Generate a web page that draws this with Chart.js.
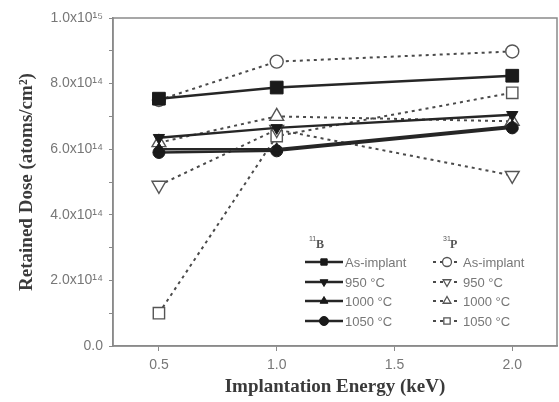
<!DOCTYPE html>
<html>
<head>
<meta charset="utf-8">
<script src="https://cdn.jsdelivr.net/npm/chart.js@4.4.1/dist/chart.umd.min.js"></script>
<style>
  html, body { margin: 0; padding: 0; background: #fff; }
  #wrap { width: 559px; height: 402px; }
</style>
</head>
<body>
<div id="wrap"><canvas id="doseChart" width="559" height="402"></canvas></div>
<script>
// Implantation energies (keV)
const energies = [0.5, 1.0, 2.0];
const xTicks = [0.5, 1.0, 1.5, 2.0];
const yTicks = [0, 2, 4, 6, 8, 10]; // in units of 1e14 atoms/cm2

// Retained dose, units of 1e14 atoms/cm2
const bAsImplant = [7.54, 7.88, 8.24];
const b950 = [6.35, 6.65, 7.05];
const b1000 = [6.0, 6.0, 6.7];
const b1050 = [5.9, 5.95, 6.65];

const pAsImplant = [7.5, 8.67, 8.98];
const p950 = [4.9, 6.6, 5.2];
const p1000 = [6.2, 7.0, 6.85];
const p1050 = [1.0, 6.4, 7.72];

const seriesLabels = ['As-implant', '950 \u00B0C', '1000 \u00B0C', '1050 \u00B0C'];
const markers = [
    { style: 'rect', rot: 0, r: 9 },
    { style: 'triangle', rot: 180, r: 6.5 },
    { style: 'triangle', rot: 0, r: 6.5 },
    { style: 'circle', rot: 0, r: 6 }
];
const openMarkers = [
    { style: 'circle', rot: 0, r: 6.5 },
    { style: 'triangle', rot: 180, r: 8 },
    { style: 'triangle', rot: 0, r: 8 },
    { style: 'rect', rot: 0, r: 8 }
];

function toPoints(vals) {
    return vals.map((v, i) => ({ x: energies[i], y: v }));
}

function solidSet(label, vals, m) {
    return {
        label: '11B ' + label,
        data: toPoints(vals),
        borderColor: '#262626',
        backgroundColor: '#1a1a1a',
        borderWidth: 2.4,
        pointStyle: m.style,
        pointRotation: m.rot,
        pointRadius: m.r,
        pointBorderColor: '#1a1a1a',
        pointBackgroundColor: '#1a1a1a',
        pointBorderWidth: 1,
        tension: 0
    };
}

function openSet(label, vals, m) {
    return {
        label: '31P ' + label,
        data: toPoints(vals),
        borderColor: '#4a4a4a',
        backgroundColor: '#fff',
        borderWidth: 2,
        borderDash: [3, 4],
        pointStyle: m.style,
        pointRotation: m.rot,
        pointRadius: m.r,
        pointBorderColor: '#555',
        pointBackgroundColor: '#fff',
        pointBorderWidth: 1.4,
        tension: 0
    };
}

// boron first so its filled markers sit on top
const bSets = [
    solidSet(seriesLabels[0], bAsImplant, markers[0]),
    solidSet(seriesLabels[1], b950, markers[1]),
    solidSet(seriesLabels[2], b1000, markers[2]),
    solidSet(seriesLabels[3], b1050, markers[3])
];
const pSets = [
    openSet(seriesLabels[0], pAsImplant, openMarkers[0]),
    openSet(seriesLabels[1], p950, openMarkers[1]),
    openSet(seriesLabels[2], p1000, openMarkers[2]),
    openSet(seriesLabels[3], p1050, openMarkers[3])
];
const datasets = bSets.concat(pSets);

// Box around plot area
const frame = {
    id: 'frame',
    afterDraw(chart) {
        const a = chart.chartArea;
        const ctx = chart.ctx;
        ctx.save();
        ctx.strokeStyle = '#8a8a8a';
        ctx.lineWidth = 1.5;
        ctx.strokeRect(a.left, a.top, a.right - a.left, a.bottom - a.top);
        ctx.restore();
    }
};

// Two-column legend with line + marker samples
const twoColLegend = {
    id: 'twoColLegend',
    afterDraw(chart) {
        const ctx = chart.ctx;
        ctx.save();
        ctx.fillStyle = '#555';
        ctx.font = 'bold 12px "Liberation Serif"';
        ctx.textBaseline = 'middle';
        ctx.fillText('B', 316, 245);
        ctx.fillText('P', 450, 245);
        ctx.font = '7px "Liberation Sans"';
        ctx.fillText('11', 309, 239);
        ctx.fillText('31', 443, 239);

        const rowY = [262, 282, 301, 321];
        for (let i = 0; i < 4; i++) {
            const y = rowY[i];
            // boron: solid line + filled marker
            const b = bSets[i];
            ctx.strokeStyle = b.borderColor;
            ctx.lineWidth = 2.4;
            ctx.setLineDash([]);
            ctx.beginPath();
            ctx.moveTo(305, y);
            ctx.lineTo(343, y);
            ctx.stroke();
            ctx.fillStyle = b.pointBackgroundColor;
            ctx.strokeStyle = b.pointBorderColor;
            ctx.lineWidth = 1;
            Chart.helpers.drawPoint(ctx, {
                pointStyle: b.pointStyle, rotation: b.pointRotation,
                radius: 4.5, borderWidth: 1
            }, 324, y);

            // phosphorus: dashed line + open marker
            const p = pSets[i];
            ctx.strokeStyle = p.borderColor;
            ctx.lineWidth = 2;
            ctx.setLineDash([3, 4]);
            ctx.beginPath();
            ctx.moveTo(433, y);
            ctx.lineTo(461, y);
            ctx.stroke();
            ctx.setLineDash([]);
            ctx.fillStyle = '#fff';
            ctx.strokeStyle = p.pointBorderColor;
            ctx.lineWidth = 1.3;
            Chart.helpers.drawPoint(ctx, {
                pointStyle: p.pointStyle, rotation: p.pointRotation,
                radius: 4.5, borderWidth: 1.3
            }, 447, y);

            ctx.fillStyle = '#777';
            ctx.font = '13px "Liberation Sans"';
            ctx.fillText(seriesLabels[i], 345, y + 1);
            ctx.fillText(seriesLabels[i], 463, y + 1);
        }
        ctx.restore();
    }
};

function yLabel(v) {
    if (v === 0) return '0.0';
    if (v === 10) return '1.0x10\u00B9\u2075';
    return v.toFixed(1) + 'x10\u00B9\u2074';
}

new Chart(document.getElementById('doseChart').getContext('2d'), {
    type: 'line',
    data: { datasets: datasets },
    options: {
        responsive: false,
        animation: false,
        layout: { autoPadding: false, padding: { top: 18, right: 2, left: 12, bottom: 0 } },
        plugins: {
            legend: { display: false },
            tooltip: { enabled: false }
        },
        scales: {
            x: {
                type: 'linear',
                min: 0.305,
                max: 2.19,
                afterBuildTicks: axis => { axis.ticks = xTicks.map(v => ({ value: v })); },
                afterFit: axis => {
                    axis.height = 56;
                    axis.paddingLeft = 0;
                    axis.paddingRight = 0;
                },
                grid: { drawOnChartArea: false, color: '#8a8a8a', tickLength: 5 },
                border: { color: '#8a8a8a', width: 1.5 },
                ticks: {
                    color: '#777',
                    font: { family: 'Liberation Sans', size: 14 },
                    padding: 6,
                    callback: v => v.toFixed(1)
                },
                title: {
                    display: true,
                    text: 'Implantation Energy (keV)',
                    color: '#3a3a3a',
                    font: { family: 'Liberation Serif', size: 19, weight: 'bold' },
                    padding: { top: 1 }
                }
            },
            y: {
                type: 'linear',
                min: 0,
                max: 10,
                afterBuildTicks: axis => {
                    const t = [];
                    for (let v = 0; v <= 10; v++) t.push({ value: v });
                    axis.ticks = t;
                },
                afterFit: axis => {
                    axis.width = 101;
                    axis.paddingTop = 0;
                    axis.paddingBottom = 0;
                },
                grid: { drawOnChartArea: false, color: '#8a8a8a', tickLength: 4 },
                border: { color: '#8a8a8a', width: 1.5 },
                ticks: {
                    color: '#777',
                    font: { family: 'Liberation Sans', size: 14 },
                    padding: 6,
                    callback: v => (yTicks.includes(v) ? yLabel(v) : '')
                },
                title: {
                    display: true,
                    text: 'Retained Dose (atoms/cm\u00B2)',
                    color: '#3a3a3a',
                    font: { family: 'Liberation Serif', size: 19, weight: 'bold' },
                    padding: { bottom: 4 }
                }
            }
        }
    },
    plugins: [frame, twoColLegend]
});
</script>
</body>
</html>
